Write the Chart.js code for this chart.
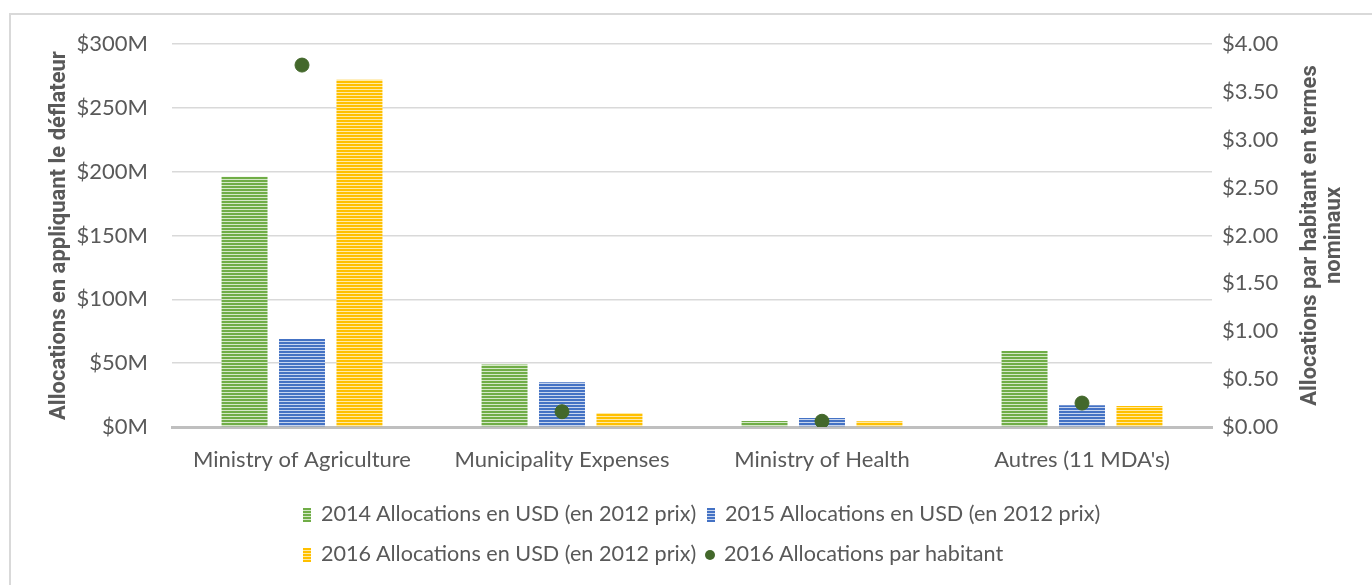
<!DOCTYPE html>
<html>
<head>
<meta charset="utf-8">
<script src="https://cdn.jsdelivr.net/npm/chart.js@4.4.1/dist/chart.umd.min.js"></script>
<style>
  html, body { margin: 0; padding: 0; background: #fff; }
  #wrap { position: relative; width: 1372px; height: 585px; overflow: hidden; }
  #frame { position: absolute; left: 9px; top: 13px; width: 1400px; height: 600px;
           border-left: 2px solid #d9d9d9; border-top: 2px solid #d9d9d9; }
  #chart { position: absolute; left: 0; top: 0; }
  .lg { position: absolute; font-family: Lato, sans-serif; font-size: 21.6px; color: #595959;
        white-space: nowrap; line-height: 24px; }
  .sw { display: inline-block; width: 8px; height: 14px; vertical-align: -1px; margin-right: 10px; }
  .dot { display: inline-block; width: 10px; height: 10px; border-radius: 50%; background: #43682b;
         margin-right: 9px; vertical-align: 1px; }
</style>
</head>
<body>
<div id="wrap">
  <div id="frame"></div>
  <canvas id="chart" width="1372" height="585"></canvas>
  <div class="lg" style="left:303px; top:501px"><span class="sw" style="background:repeating-linear-gradient(#70ad47 0 2px,#d5e8c8 2px 3px)"></span>2014 Allocations en USD (en 2012 prix)</div>
  <div class="lg" style="left:707px; top:501px"><span class="sw" style="background:repeating-linear-gradient(#4472c4 0 2px,#c9d6ee 2px 3px)"></span>2015 Allocations en USD (en 2012 prix)</div>
  <div class="lg" style="left:303px; top:541px"><span class="sw" style="background:repeating-linear-gradient(#ffc000 0 2px,#ffeaa6 2px 3px)"></span>2016 Allocations en USD (en 2012 prix)</div>
  <div class="lg" style="left:705px; top:541px"><span class="dot"></span>2016 Allocations par habitant</div>
</div>
<script>
const categories = ['Ministry of Agriculture', 'Municipality Expenses', 'Ministry of Health', "Autres (11 MDA's)"];
const alloc2014 = [196, 49, 4.7, 59.5];   // millions USD
const alloc2015 = [69, 35, 7, 17];
const alloc2016 = [272, 11, 4.5, 16.5];
const perCapita2016 = [3.78, 0.16, 0.06, 0.25]; // USD per person
const leftTicks = [0, 50, 100, 150, 200, 250, 300];
const rightTicks = [0, 0.5, 1, 1.5, 2, 2.5, 3, 3.5, 4];

const FONT = 'Lato, sans-serif';
const BOLD = 'Roboto, sans-serif';
const TXT = '#595959';

function stripes(color, light) {
  const c = document.createElement('canvas');
  c.width = 4; c.height = 3;
  const g = c.getContext('2d');
  g.fillStyle = light; g.fillRect(0, 0, 4, 3);
  g.fillStyle = color; g.fillRect(0, 0, 4, 2);
  return g.createPattern(c, 'repeat');
}

const rightTitle = {
  id: 'rightTitle',
  afterDraw(chart) {
    const { ctx, chartArea } = chart;
    const cy = (chartArea.top + chartArea.bottom) / 2;
    ctx.save();
    ctx.fillStyle = TXT;
    ctx.font = 'bold 22px ' + BOLD;
    ctx.textAlign = 'center';
    ctx.textBaseline = 'middle';
    ctx.translate(1310, cy);
    ctx.rotate(-Math.PI / 2);
    ctx.fillText('Allocations par habitant en termes', 0, 0);
    ctx.fillText('nominaux', 0, 24);
    ctx.restore();
  }
};

const barOpts = { categoryPercentage: 0.663, barPercentage: 0.8, order: 2, yAxisID: 'y' };

new Chart(document.getElementById('chart'), {
  data: {
    labels: categories,
    datasets: [
      { type: 'bar', label: '2014 Allocations en USD (en 2012 prix)', data: alloc2014,
        backgroundColor: stripes('#70ad47', '#d5e8c8'), ...barOpts },
      { type: 'bar', label: '2015 Allocations en USD (en 2012 prix)', data: alloc2015,
        backgroundColor: stripes('#4472c4', '#c9d6ee'), ...barOpts },
      { type: 'bar', label: '2016 Allocations en USD (en 2012 prix)', data: alloc2016,
        backgroundColor: stripes('#ffc000', '#ffeaa6'), ...barOpts },
      { type: 'line', label: '2016 Allocations par habitant', data: perCapita2016,
        showLine: false, pointRadius: 7, pointHoverRadius: 7, pointBackgroundColor: '#43682b',
        pointBorderColor: '#43682b', order: 1, yAxisID: 'y1' }
    ]
  },
  options: {
    responsive: false,
    animation: false,
    layout: { padding: { top: 44, bottom: 98, left: 0, right: 0 } },
    plugins: { legend: { display: false }, tooltip: { enabled: false } },
    scales: {
      x: {
        grid: { display: false },
        border: { display: true, color: '#bfbfbf', width: 3 },
        ticks: { color: TXT, font: { family: FONT, size: 22 }, padding: 12, maxRotation: 0 },
        afterFit: s => { s.height = 60; }
      },
      y: {
        position: 'left',
        min: 0, max: 300,
        afterBuildTicks: s => { s.ticks = leftTicks.map(v => ({ value: v })); },
        grid: { color: '#d9d9d9', lineWidth: 1.5, drawTicks: false },
        border: { display: false },
        ticks: { color: TXT, font: { family: FONT, size: 22 }, padding: 24,
                 callback: v => '$' + v + 'M' },
        title: { display: true, text: 'Allocations en appliquant le déflateur', color: TXT,
                 font: { family: BOLD, size: 22, weight: 'bold' }, padding: { top: 46, bottom: 0 } },
        afterFit: s => { s.width = 172; }
      },
      y1: {
        position: 'right',
        min: 0, max: 4,
        afterBuildTicks: s => { s.ticks = rightTicks.map(v => ({ value: v })); },
        grid: { display: false, drawTicks: false },
        border: { display: false },
        ticks: { color: TXT, font: { family: FONT, size: 22 }, padding: 10,
                 callback: v => '$' + v.toFixed(2) },
        afterFit: s => { s.width = 160; }
      }
    }
  },
  plugins: [rightTitle]
});
</script>
</body>
</html>
